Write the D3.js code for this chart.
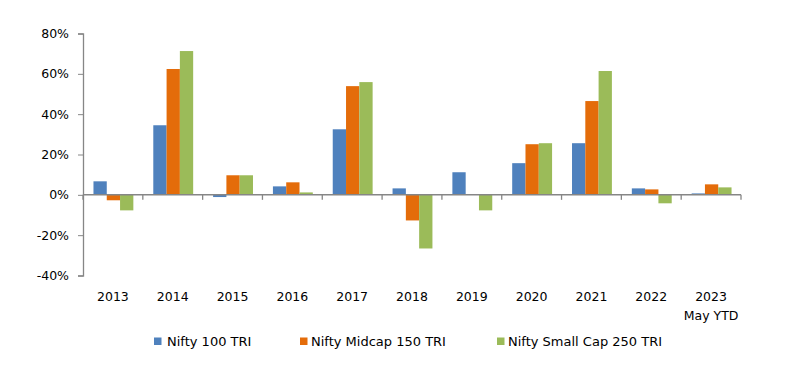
<!DOCTYPE html>
<html><head><meta charset="utf-8">
<script src="https://cdn.jsdelivr.net/npm/d3@7"></script>
<style>body{margin:0;background:#fff}svg{display:block}text{font-family:"DejaVu Sans",sans-serif;fill:#000}</style>
</head><body><svg id="c" width="795" height="369"></svg>
<script>
const categories = ["2013","2014","2015","2016","2017","2018","2019","2020","2021","2022","2023\nMay YTD"];
const seriesNames = ["Nifty 100 TRI","Nifty Midcap 150 TRI","Nifty Small Cap 250 TRI"];
const nifty100 = [6.7, 34.5, -1.1, 4.2, 32.5, 3.2, 11.2, 15.7, 25.6, 3.2, 0.7];
const midcap150 = [-2.7, 62.4, 9.7, 6.2, 53.9, -12.7, 0, 25.1, 46.5, 2.7, 5.2];
const smallcap250 = [-7.7, 71.3, 9.7, 1.2, 55.9, -26.6, -7.7, 25.6, 61.4, -4.2, 3.7];
const yTicks = [-40, -20, 0, 20, 40, 60, 80];
const colors = ["#4F81BD", "#E46C0A", "#9BBB59"];

const svg = d3.select("#c");
const x = d3.scaleBand().domain(categories).range([83, 741]);
const bw = x.bandwidth();
const sub = d3.scaleBand().domain([0,1,2]).range([bw / 6 + 0.5, bw * 5 / 6 + 0.5]);
const y = d3.scaleLinear().domain([-40, 80]).range([275.5, 33.5]);
const series = [nifty100, midcap150, smallcap250];

// bars
series.forEach((vals, si) => {
  svg.append("g").selectAll("rect").data(vals).join("rect")
    .attr("x", (d, i) => x(categories[i]) + sub(si))
    .attr("width", sub.bandwidth())
    .attr("y", d => y(Math.max(0, d)))
    .attr("height", d => Math.abs(y(d) - y(0)))
    .attr("fill", colors[si]);
});

// y axis
const yAxis = svg.append("g").attr("transform", "translate(83,0)")
  .call(d3.axisLeft(y).tickValues(yTicks).tickFormat(d => d + "%").tickSize(5).tickPadding(9));
yAxis.select(".domain").attr("stroke", "#868686").attr("stroke-width", 1.3);
yAxis.selectAll(".tick line").attr("stroke", "#868686");
yAxis.selectAll("text").attr("font-size", "12.5px").attr("font-family", "DejaVu Sans").attr("fill", "#000");

// x axis at zero
const xg = svg.append("g").attr("transform", `translate(0,${y(0)})`);
xg.append("line").attr("x1", 83).attr("x2", 741).attr("stroke", "#868686").attr("stroke-width", 1.5);
const bounds = categories.map(c => x(c)).concat([x.range()[1]]);
xg.selectAll("line.tk").data(bounds).join("line").attr("class", "tk")
  .attr("x1", d => d).attr("x2", d => d).attr("y1", 0).attr("y2", 5)
  .attr("stroke", "#868686").attr("stroke-width", 1.3);

// x labels (below plot)
const lab = svg.append("g").selectAll("text").data(categories).join("text")
  .attr("x", d => x(d) + x.bandwidth() / 2)
  .attr("y", 301)
  .attr("text-anchor", "middle")
  .attr("font-size", "12.5px");
lab.each(function(d) {
  const parts = d.split("\n");
  const t = d3.select(this);
  parts.forEach((p, i) => t.append("tspan").attr("x", t.attr("x")).attr("dy", i === 0 ? 0 : 19).text(p));
});

// legend
const legendX = [154, 300, 497];
const textX = [167, 311, 508];
seriesNames.forEach((n, i) => {
  svg.append("rect").attr("x", legendX[i]).attr("y", 337.5).attr("width", 7.5).attr("height", 7.5).attr("fill", colors[i]);
  svg.append("text").attr("x", textX[i]).attr("y", 346).attr("font-size", "13px").text(n);
});
</script></body></html>
